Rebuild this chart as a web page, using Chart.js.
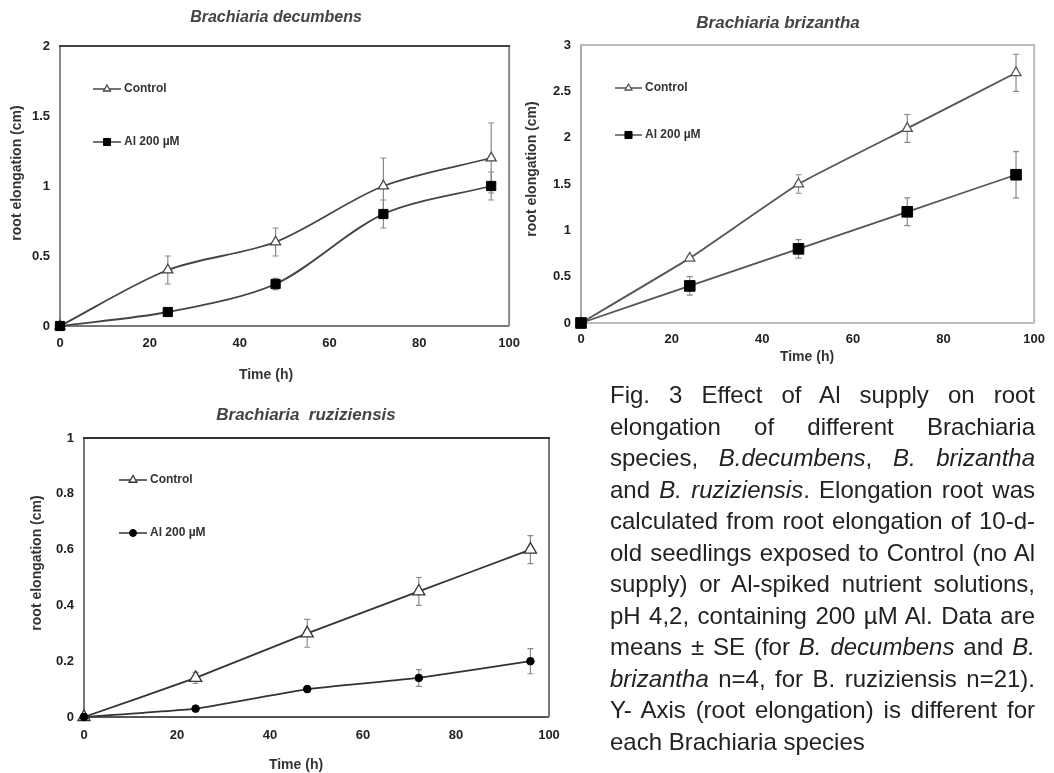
<!DOCTYPE html>
<html>
<head>
<meta charset="utf-8">
<script src="https://cdn.jsdelivr.net/npm/chart.js@4.4.1/dist/chart.umd.min.js"></script>
<style>
html, body { margin:0; padding:0; background:#fff; width:1054px; height:773px; overflow:hidden; }
canvas { position:absolute; }
#c1 { left:0; top:0; }
#c2 { left:520px; top:0; }
#c3 { left:0; top:380px; }
#cap { position:absolute; left:610px; top:379px; width:425px;
  font-family:"Liberation Sans", Arial, sans-serif; font-size:24px; line-height:31.5px; color:#222; }
#cap div { text-align:justify; text-align-last:justify; }
#cap div.last { text-align:left; text-align-last:left; }
</style>
</head>
<body>
<canvas id="c1" width="530" height="385"></canvas>
<canvas id="c2" width="534" height="385"></canvas>
<canvas id="c3" width="580" height="393"></canvas>
<div id="cap">
<div>Fig. 3 Effect of Al supply on root</div>
<div>elongation of different Brachiaria</div>
<div>species, <i>B.decumbens</i>, <i>B. brizantha</i></div>
<div>and <i>B. ruziziensis</i>. Elongation root was</div>
<div>calculated from root elongation of 10-d-</div>
<div>old seedlings exposed to Control (no Al</div>
<div>supply) or Al-spiked nutrient solutions,</div>
<div>pH 4,2, containing 200 µM Al. Data are</div>
<div>means ± SE (for <i>B. decumbens</i> and <i>B.</i></div>
<div><i>brizantha</i> n=4, for B. ruziziensis n=21).</div>
<div>Y- Axis (root elongation) is different for</div>
<div class="last">each Brachiaria species</div>
</div>
<script>
// ---------- data ----------
const times = [0, 24, 48, 72, 96];
const xTicks = [0, 20, 40, 60, 80, 100];
const seriesNames = ['Control', 'Al 200 µM'];
const xAxisTitle = 'Time (h)';
const yAxisTitle = 'root elongation (cm)';

const decTitle = 'Brachiaria decumbens';
const decControl = [0, 0.4, 0.6, 1.0, 1.2];
const decControlErr = [0, 0.1, 0.1, 0.2, 0.25];
const decAl = [0, 0.1, 0.3, 0.8, 1.0];
const decAlErr = [0, 0, 0.04, 0.1, 0.1];
const decYTicks = [0, 0.5, 1, 1.5, 2];

const briTitle = 'Brachiaria brizantha';
const briControl = [0, 0.7, 1.5, 2.1, 2.7];
const briControlErr = [0, 0.02, 0.1, 0.15, 0.2];
const briAl = [0, 0.4, 0.8, 1.2, 1.6];
const briAlErr = [0, 0.1, 0.1, 0.15, 0.25];
const briYTicks = [0, 0.5, 1, 1.5, 2, 2.5, 3];

const ruzTitle = 'Brachiaria  ruziziensis';
const ruzControl = [0, 0.14, 0.3, 0.45, 0.6];
const ruzControlErr = [0, 0.02, 0.05, 0.05, 0.05];
const ruzAl = [0, 0.03, 0.1, 0.14, 0.2];
const ruzAlErr = [0, 0, 0.01, 0.03, 0.045];
const ruzYTicks = [0, 0.2, 0.4, 0.6, 0.8, 1];

// ---------- plugins ----------
const FAMILY = '"Liberation Sans", Arial, sans-serif';

const framePlugin = {
  id: 'frame',
  beforeDatasetsDraw(chart, args, o) {
    const {ctx, chartArea: a} = chart;
    ctx.save();
    ctx.lineWidth = o.width;
    const side = (c, x1, y1, x2, y2) => { ctx.strokeStyle = c; ctx.beginPath(); ctx.moveTo(x1, y1); ctx.lineTo(x2, y2); ctx.stroke(); };
    side(o.left, a.left, a.top, a.left, a.bottom);
    side(o.bottom, a.left, a.bottom, a.right, a.bottom);
    side(o.right, a.right, a.bottom, a.right, a.top);
    side(o.top, a.left - o.width / 2, a.top, a.right + o.width / 2, a.top);
    ctx.restore();
  }
};

const errorBarPlugin = {
  id: 'errorBars',
  beforeDatasetsDraw(chart, args, o) {
    const {ctx, scales: {x, y}} = chart;
    ctx.save();
    ctx.strokeStyle = o.color;
    ctx.lineWidth = o.width;
    chart.data.datasets.forEach(ds => {
      (ds.errors || []).forEach((e, i) => {
        if (!e) return;
        const p = ds.data[i];
        const px = x.getPixelForValue(p.x);
        const y1 = y.getPixelForValue(p.y + e), y2 = y.getPixelForValue(p.y - e);
        ctx.beginPath();
        ctx.moveTo(px, y1); ctx.lineTo(px, y2);
        ctx.moveTo(px - o.cap, y1); ctx.lineTo(px + o.cap, y1);
        ctx.moveTo(px - o.cap, y2); ctx.lineTo(px + o.cap, y2);
        ctx.stroke();
      });
    });
    ctx.restore();
  }
};

const textPlugin = {
  id: 'texts',
  afterDraw(chart, args, o) {
    const ctx = chart.ctx;
    (o.items || []).forEach(t => {
      ctx.save();
      ctx.translate(t.x, t.y);
      if (t.rotate) ctx.rotate(t.rotate);
      ctx.font = t.font;
      ctx.fillStyle = t.color;
      ctx.textAlign = 'center';
      ctx.textBaseline = 'middle';
      ctx.fillText(t.text, 0, 0);
      ctx.restore();
    });
  }
};

const legendPlugin = {
  id: 'insetLegend',
  afterDraw(chart, args, o) {
    const ctx = chart.ctx;
    chart.data.datasets.forEach((ds, i) => {
      const y = o.ys[i];
      ctx.save();
      ctx.strokeStyle = ds.borderColor;
      ctx.lineWidth = o.lineWidth;
      ctx.beginPath(); ctx.moveTo(o.x0, y); ctx.lineTo(o.x1, y); ctx.stroke();
      ctx.fillStyle = ds.pointBackgroundColor;
      ctx.strokeStyle = ds.pointBorderColor;
      ctx.lineWidth = ds.pointBorderWidth;
      Chart.helpers.drawPoint(ctx, {pointStyle: ds.pointStyle, radius: o.radii[i], borderWidth: ds.pointBorderWidth, rotation: 0}, (o.x0 + o.x1) / 2, y);
      ctx.fillStyle = o.color;
      ctx.font = o.font;
      ctx.textAlign = 'left';
      ctx.textBaseline = 'middle';
      ctx.fillText(ds.label, o.textX, y);
      ctx.restore();
    });
  }
};

function makeChart(id, c) {
  const cv = document.getElementById(id);
  const W = cv.width, H = cv.height;
  const tickFont = {family: FAMILY, size: c.tickSize, weight: 'bold'};
  return new Chart(cv, {
    type: 'line',
    data: {
      datasets: [
        {
          label: seriesNames[0],
          data: c.control.map((v, i) => ({x: times[i], y: v})),
          errors: c.controlErr,
          order: 1, clip: false,
          borderColor: c.lineColor, borderWidth: c.lineWidth, tension: c.tension,
          pointStyle: 'triangle', pointRadius: c.triR,
          pointBackgroundColor: '#fff', pointBorderColor: c.lineColor, pointBorderWidth: 1.3
        },
        {
          label: seriesNames[1],
          data: c.al.map((v, i) => ({x: times[i], y: v})),
          errors: c.alErr,
          order: 0, clip: false,
          borderColor: c.lineColor, borderWidth: c.lineWidth, tension: c.tension,
          pointStyle: c.alStyle, pointRadius: c.alR,
          pointBackgroundColor: '#000', pointBorderColor: '#000', pointBorderWidth: 1
        }
      ]
    },
    options: {
      responsive: false, animation: false, events: [],
      layout: {padding: {left: 0, top: c.area.top, right: W - c.area.right, bottom: 0}},
      scales: {
        x: {
          type: 'linear', min: 0, max: 100,
          afterBuildTicks: s => { s.ticks = xTicks.map(v => ({value: v})); },
          afterFit: s => { s.height = H - c.area.bottom; },
          grid: {display: false, drawTicks: false}, border: {display: false},
          ticks: {padding: c.xPad, font: tickFont, color: '#222', maxRotation: 0, autoSkip: false,
                  callback: v => String(v)}
        },
        y: {
          type: 'linear', min: c.yTicks[0], max: c.yTicks[c.yTicks.length - 1],
          afterBuildTicks: s => { s.ticks = c.yTicks.map(v => ({value: v})); },
          afterFit: s => { s.width = c.area.left; },
          grid: {display: false, drawTicks: false}, border: {display: false},
          ticks: {padding: c.yPad, font: tickFont, color: '#222', autoSkip: false,
                  callback: v => String(v)}
        }
      },
      plugins: {
        legend: {display: false},
        tooltip: {enabled: false},
        frame: c.frame,
        errorBars: {color: '#8a8a8a', width: 1.2, cap: 3},
        texts: {items: [
          {text: c.title, x: c.titlePos[0], y: c.titlePos[1], font: 'italic bold ' + c.titleSize + 'px ' + FAMILY, color: '#444'},
          {text: yAxisTitle, x: c.yTitlePos[0], y: c.yTitlePos[1], rotate: -Math.PI / 2, font: 'bold ' + c.axisSize + 'px ' + FAMILY, color: '#333'},
          {text: xAxisTitle, x: c.xTitlePos[0], y: c.xTitlePos[1], font: 'bold ' + c.axisSize + 'px ' + FAMILY, color: '#333'}
        ]},
        insetLegend: c.legend
      }
    },
    plugins: [framePlugin, errorBarPlugin, textPlugin, legendPlugin]
  });
}

makeChart('c1', {
  title: decTitle, control: decControl, controlErr: decControlErr, al: decAl, alErr: decAlErr, yTicks: decYTicks,
  area: {left: 60, top: 46, right: 511, bottom: 326},
  tickSize: 13, xPad: 10, yPad: 10, titleSize: 16, axisSize: 14,
  titlePos: [276, 18], yTitlePos: [17, 173], xTitlePos: [266, 375],
  lineColor: '#444', lineWidth: 1.8, tension: 0.3, triR: 5.8, alStyle: 'rect', alR: 6.5,
  frame: {width: 2, top: '#444', right: '#888', bottom: '#777', left: '#888'},
  legend: {x0: 93, x1: 121, ys: [89, 142], textX: 124, radii: [4, 5], lineWidth: 1.5, color: '#333', font: 'bold 12px ' + FAMILY}
});

makeChart('c2', {
  title: briTitle, control: briControl, controlErr: briControlErr, al: briAl, alErr: briAlErr, yTicks: briYTicks,
  area: {left: 61, top: 45, right: 518, bottom: 323},
  tickSize: 13, xPad: 9, yPad: 10, titleSize: 17, axisSize: 14,
  titlePos: [258, 23], yTitlePos: [12, 169], xTitlePos: [287, 357],
  lineColor: '#555', lineWidth: 1.8, tension: 0.12, triR: 5.8, alStyle: 'rect', alR: 7.5,
  frame: {width: 2, top: '#bbb', right: '#bbb', bottom: '#bbb', left: '#aaa'},
  legend: {x0: 95, x1: 122, ys: [88, 135], textX: 125, radii: [4, 5], lineWidth: 1.5, color: '#333', font: 'bold 12px ' + FAMILY}
});

makeChart('c3', {
  title: ruzTitle, control: ruzControl, controlErr: ruzControlErr, al: ruzAl, alErr: ruzAlErr, yTicks: ruzYTicks,
  area: {left: 84, top: 58, right: 549, bottom: 337},
  tickSize: 13, xPad: 11, yPad: 10, titleSize: 17, axisSize: 14,
  titlePos: [306, 35], yTitlePos: [37, 183], xTitlePos: [296, 385],
  lineColor: '#333', lineWidth: 1.8, tension: 0.12, triR: 7, alStyle: 'circle', alR: 3.8,
  frame: {width: 2, top: '#333', right: '#777', bottom: '#555', left: '#777'},
  legend: {x0: 119, x1: 147, ys: [100, 153], textX: 150, radii: [4.5, 3.5], lineWidth: 1.5, color: '#333', font: 'bold 12px ' + FAMILY}
});
</script>
</body>
</html>
